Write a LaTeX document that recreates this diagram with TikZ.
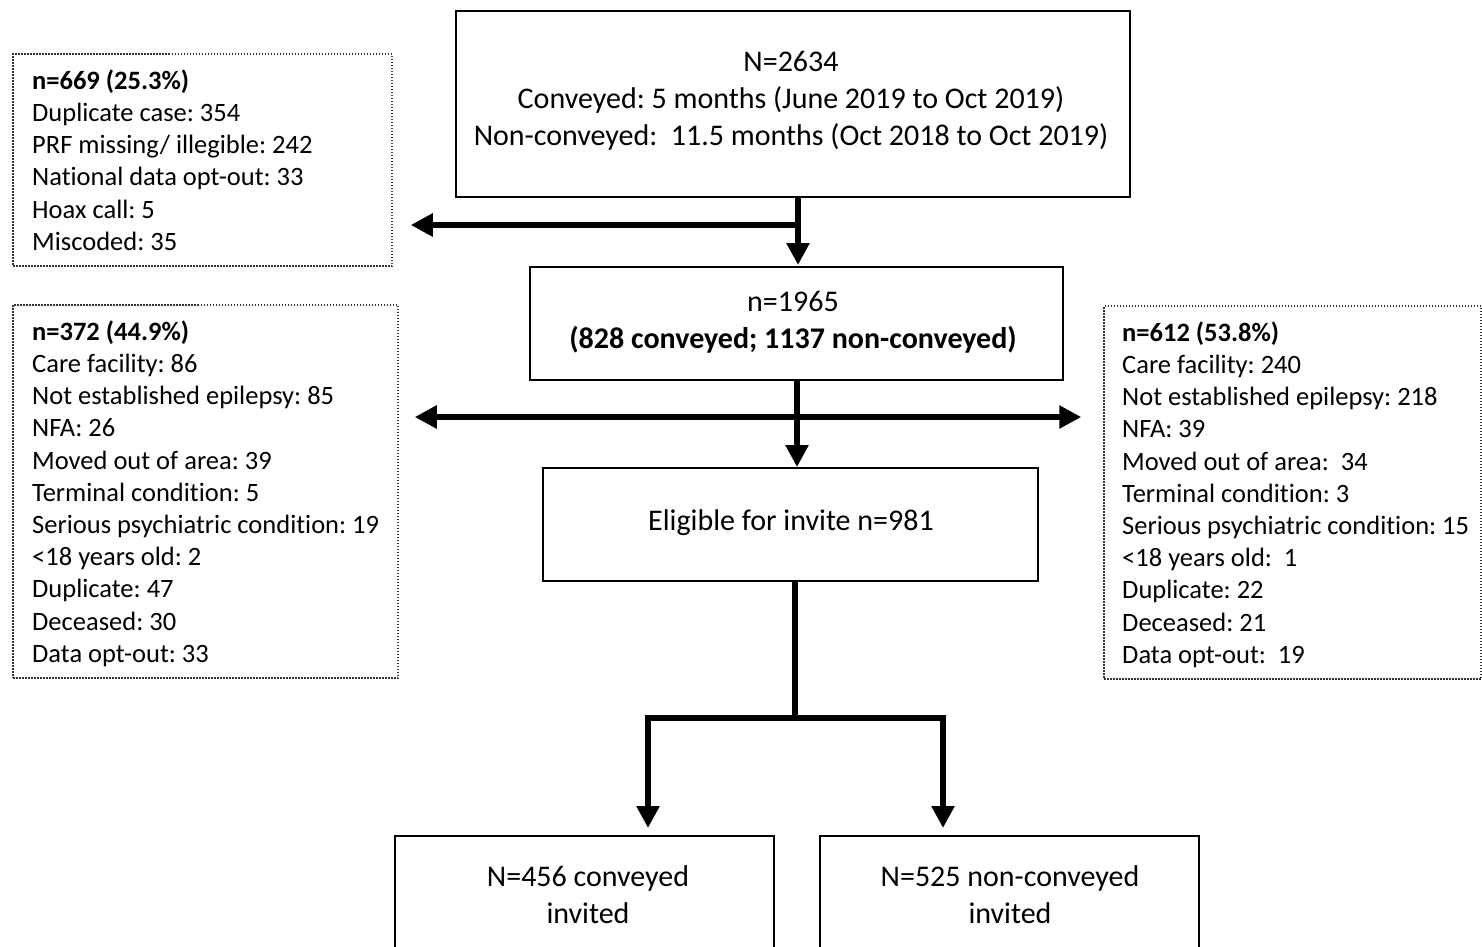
\documentclass[tikz,border=0pt]{standalone}
\usepackage{fontspec}
\setmainfont{Carlito}[Ligatures={NoCommon}]
\usetikzlibrary{arrows.meta}
\frenchspacing
\begin{document}
\begin{tikzpicture}[x=1pt,y=-1pt,
  sbox/.style={draw=black,line width=2pt,rectangle,inner sep=0pt},
  dbox/.style={draw=black!80,line width=1.5pt,dash pattern=on 1.5pt off 1.5pt,rectangle,inner sep=0pt},
  ctext/.style={align=center,inner sep=0pt,font=\fontsize{30}{37}\selectfont},
  ltext/.style={align=left,inner sep=0pt,anchor=north west,font=\fontsize{26.5}{32.2}\selectfont},
  thick line/.style={line width=6pt,line join=miter},
  arr/.style={thick line,-{Triangle[length=22pt,width=22pt]}},
  arrboth/.style={thick line,{Triangle[length=22pt,width=22pt]}-{Triangle[length=22pt,width=22pt]}}]
\useasboundingbox (0,0) rectangle (1482,946);
\clip (0,0) rectangle (1482,946);
% boxes
\node[sbox,minimum width=674pt,minimum height=186pt] (top) at (793,104) {};
\node[ctext] (toptext) at (791,101) {N=2634\\Conveyed: 5 months (June 2019 to Oct 2019)\\Non-conveyed:\ \ 11.5 months (Oct 2018 to Oct 2019)};
\node[sbox,minimum width=533pt,minimum height=113pt] (box2) at (796.5,323.5) {};
\node[ctext] (box2text) at (793,322.5) {n=1965\\\textbf{(828 conveyed; 1137 non-conveyed)}};
\node[sbox,minimum width=495pt,minimum height=113pt] (elig) at (790.5,524.5) {};
\node[ctext] (eligtext) at (791,523) {Eligible for invite n=981};
\node[sbox,minimum width=379pt,minimum height=154pt] (bl) at (584.5,913) {};
\node[ctext] (bltext) at (588,895) {N=456 conveyed\\invited};
\node[sbox,minimum width=379pt,minimum height=154pt] (br) at (1009.5,913) {};
\node[ctext] (brtext) at (1010,895) {N=525 non-conveyed\\invited};
% dotted boxes
\node[dbox,minimum width=379pt,minimum height=212pt] (left1) at (202.5,160) {};
\node[ltext] (left1text) at (32,69.5) {\textbf{n=669 (25.3\%)}\\Duplicate case: 354\\PRF missing/ illegible: 242\\National data opt-out: 33\\Hoax call: 5\\Miscoded: 35};
\node[dbox,minimum width=385pt,minimum height=373pt] (left2) at (205.5,491.5) {};
\node[ltext] (left2text) at (32,320.5) {\textbf{n=372 (44.9\%)}\\Care facility: 86\\Not established epilepsy: 85\\NFA: 26\\Moved out of area: 39\\Terminal condition: 5\\Serious psychiatric condition: 19\\<18 years old: 2\\Duplicate: 47\\Deceased: 30\\Data opt-out: 33};
\node[dbox,minimum width=377pt,minimum height=373pt] (right) at (1292.5,492.5) {};
\node[ltext] (righttext) at (1122,321.5) {\textbf{n=612 (53.8\%)}\\Care facility: 240\\Not established epilepsy: 218\\NFA: 39\\Moved out of area:\ \ 34\\Terminal condition: 3\\Serious psychiatric condition: 15\\<18 years old:\ \ 1\\Duplicate: 22\\Deceased: 21\\Data opt-out:\ \ 19};
% connectors
\coordinate (a1) at (798,225);
\coordinate (a2) at (797,417);
\coordinate (b) at (795,718);
\coordinate (bL) at (648,718);
\coordinate (bR) at (943,718);
\draw[arr,shorten >=1pt] (top.south -| a1) -- (box2.north -| a1);
\draw[arr,shorten >=18pt] (a1) -- (a1 -| left1.east);
\draw[arr,shorten >=0pt] (box2.south -| a2) -- (elig.north -| a2);
\draw[arrboth,shorten <=16pt,shorten >=22pt] (a2 -| left2.east) -- (a2 -| right.west);
\draw[thick line] (elig.south -| b) -- (b);
\draw[arr,shorten >=7pt] (b) -- (bL) -- (bL |- bl.north);
\draw[arr,shorten >=7pt] (b) -- (bR) -- (bR |- br.north);
\end{tikzpicture}
\end{document}
